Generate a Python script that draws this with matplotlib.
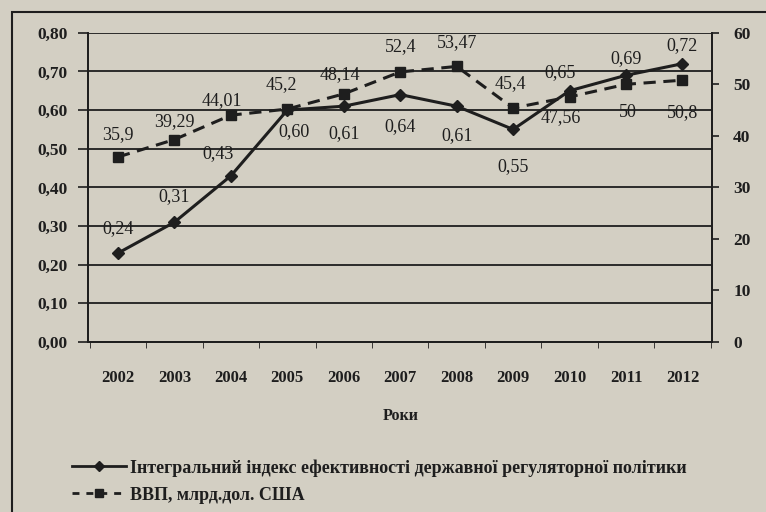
import numpy as np
import matplotlib
matplotlib.use('Agg')
import matplotlib.pyplot as plt
from matplotlib.lines import Line2D
from matplotlib.patches import Rectangle

plt.rcParams['font.family'] = ['Liberation Serif', 'DejaVu Serif']

# дані
years = ['2002', '2003', '2004', '2005', '2006', '2007', '2008', '2009', '2010', '2011', '2012']
index_vals = [0.23, 0.31, 0.43, 0.60, 0.61, 0.64, 0.61, 0.55, 0.65, 0.69, 0.72]
index_labels = ['0,24', '0,31', '0,43', '0,60', '0,61', '0,64', '0,61', '0,55', '0,65', '0,69', '0,72']
gdp_vals = [35.9, 39.29, 44.01, 45.2, 48.14, 52.4, 53.47, 45.4, 47.56, 50, 50.8]
gdp_labels = ['35,9', '39,29', '44,01', '45,2', '48,14', '52,4', '53,47', '45,4', '47,56', '50', '50,8']
left_ticks = [0.0, 0.1, 0.2, 0.3, 0.4, 0.5, 0.6, 0.7, 0.8]
right_ticks = [0, 10, 20, 30, 40, 50, 60]

name_index = 'Інтегральний індекс ефективності державної регуляторної політики'
name_gdp = 'ВВП, млрд.дол. США'

# зсуви підписів (у пікселях)
index_off = [(0, 25), (0, 26), (-13, 22), (7, -22), (0, -27), (0, -32), (0, -29), (0, -37), (-10, 18), (0, 17), (0, 18)]
gdp_off = [(0, 22), (0, 18), (-9, 15), (-6, 24), (-4, 19), (0, 25), (0, 24), (-3, 24), (-9, -21), (2, -28), (0, -32)]

bg = '#d3cfc3'
ink = '#1e1e1e'

fig = plt.figure(figsize=(7.66, 5.12), dpi=100, facecolor=bg)
ax = fig.add_axes([0.115, 0.332, 0.815, 0.604], facecolor=bg)
ax2 = ax.twinx()

x = np.arange(len(years))

ax.plot(x, index_vals, color=ink, lw=2.2, marker='D', ms=6, zorder=3)
ax2.plot(x, gdp_vals, color=ink, lw=2.2, ls=(0, (4, 2.5)), marker='s', ms=7, zorder=3)

for i in range(len(years)):
    ax.annotate(index_labels[i], (x[i], index_vals[i]), xytext=index_off[i], textcoords='offset pixels',
                ha='center', va='center', fontsize=13, color=ink)
    ax2.annotate(gdp_labels[i], (x[i], gdp_vals[i]), xytext=gdp_off[i], textcoords='offset pixels',
                 ha='center', va='center', fontsize=13, color=ink)

ax.set_xlim(-0.53, len(years) - 0.47)
ax.set_ylim(0, 0.8)
ax2.set_ylim(0, 60)
ax.set_yticks(left_ticks)
ax.set_yticklabels([f'{v:.2f}'.replace('.', ',') for v in left_ticks], fontsize=12.5, weight='bold', color=ink)
ax2.set_yticks(right_ticks)
ax2.set_yticklabels([str(v) for v in right_ticks], fontsize=12.5, weight='bold', color=ink)

ax.set_xticks(x)
ax.set_xticklabels(years, fontsize=12, weight='bold', color=ink)
ax.set_xticks(np.arange(-0.5, len(years)), minor=True)
ax.tick_params(axis='x', which='major', length=0, pad=20)
ax.tick_params(axis='x', which='minor', length=4, color=ink)
ax.tick_params(axis='y', length=7, color=ink, width=1.2, pad=8)
ax2.tick_params(axis='y', length=5, color=ink, width=1.2, pad=10)

ax.grid(axis='y', color=ink, lw=1.3)
ax.set_axisbelow(True)
ax.spines['top'].set_visible(False)
ax2.spines['top'].set_visible(False)
for a in (ax, ax2):
    for s in a.spines.values():
        s.set_color(ink)
        s.set_linewidth(1.3)

ax.set_xlabel('Роки', fontsize=11.5, weight='bold', color=ink, labelpad=16)

handles = [Line2D([], [], color=ink, lw=2, marker='D', ms=5),
           Line2D([], [], color=ink, lw=2, ls=(0, (2.5, 2.5)), marker='s', ms=6)]
fig.legend(handles, [name_index, name_gdp], loc='upper left', bbox_to_anchor=(0.085, 0.117),
           frameon=False, prop={'weight': 'bold', 'size': 13}, handlelength=3,
           handletextpad=0.2, labelspacing=0.55, labelcolor=ink, borderaxespad=0)

# рамка
fig.add_artist(Rectangle((0.016, -0.1), 1.2, 1.076, transform=fig.transFigure,
                         fill=False, ec=ink, lw=1.5))

fig.savefig('out.png', dpi=100, facecolor=bg)
